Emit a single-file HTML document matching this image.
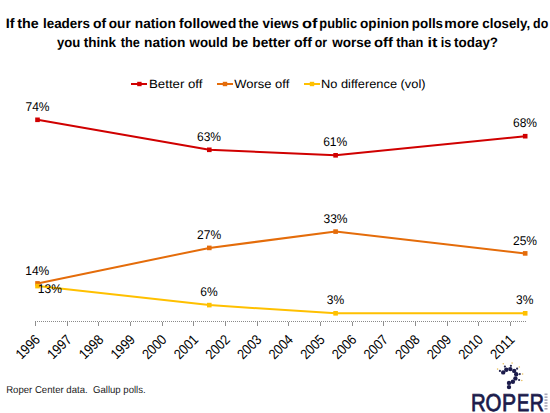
<!DOCTYPE html>
<html><head><meta charset="utf-8">
<style>
html,body{margin:0;padding:0;background:#fff;}
body{width:550px;height:413px;overflow:hidden;position:relative;}
svg{position:absolute;left:0;top:0;}
text{font-family:"Liberation Sans",sans-serif;text-rendering:geometricPrecision;}
</style></head>
<body>
<svg width="550" height="413" viewBox="0 0 550 413">
<g font-weight="bold" font-size="13.7" fill="#000">
<text x="5.86" y="27.6" textLength="8.81" lengthAdjust="spacingAndGlyphs">If</text><text x="17.26" y="27.6" textLength="21.39" lengthAdjust="spacingAndGlyphs">the</text><text x="42.92" y="27.6" textLength="47.16" lengthAdjust="spacingAndGlyphs">leaders</text><text x="93.01" y="27.6" textLength="13.16" lengthAdjust="spacingAndGlyphs">of</text><text x="108.82" y="27.6" textLength="21.87" lengthAdjust="spacingAndGlyphs">our</text><text x="134.81" y="27.6" textLength="41.02" lengthAdjust="spacingAndGlyphs">nation</text><text x="179.09" y="27.6" textLength="57.24" lengthAdjust="spacingAndGlyphs">followed</text><text x="238.57" y="27.6" textLength="20.05" lengthAdjust="spacingAndGlyphs">the</text><text x="262.50" y="27.6" textLength="36.48" lengthAdjust="spacingAndGlyphs">views</text><text x="301.93" y="27.6" textLength="15.44" lengthAdjust="spacingAndGlyphs">of</text><text x="319.37" y="27.6" textLength="37.67" lengthAdjust="spacingAndGlyphs">public</text><text x="360.02" y="27.6" textLength="49.10" lengthAdjust="spacingAndGlyphs">opinion</text><text x="411.83" y="27.6" textLength="31.25" lengthAdjust="spacingAndGlyphs">polls</text><text x="444.38" y="27.6" textLength="34.45" lengthAdjust="spacingAndGlyphs">more</text><text x="482.33" y="27.6" textLength="47.80" lengthAdjust="spacingAndGlyphs">closely,</text><text x="533.10" y="27.6" textLength="15.14" lengthAdjust="spacingAndGlyphs">do</text>
<text x="57.03" y="46.6" textLength="23.23" lengthAdjust="spacingAndGlyphs">you</text><text x="83.66" y="46.6" textLength="32.28" lengthAdjust="spacingAndGlyphs">think</text><text x="120.67" y="46.6" textLength="19.12" lengthAdjust="spacingAndGlyphs">the</text><text x="144.11" y="46.6" textLength="41.23" lengthAdjust="spacingAndGlyphs">nation</text><text x="189.57" y="46.6" textLength="38.31" lengthAdjust="spacingAndGlyphs">would</text><text x="232.11" y="46.6" textLength="16.02" lengthAdjust="spacingAndGlyphs">be</text><text x="252.31" y="46.6" textLength="38.09" lengthAdjust="spacingAndGlyphs">better</text><text x="294.01" y="46.6" textLength="17.96" lengthAdjust="spacingAndGlyphs">off</text><text x="314.87" y="46.6" textLength="12.30" lengthAdjust="spacingAndGlyphs">or</text><text x="332.17" y="46.6" textLength="39.05" lengthAdjust="spacingAndGlyphs">worse</text><text x="374.08" y="46.6" textLength="18.89" lengthAdjust="spacingAndGlyphs">off</text><text x="396.27" y="46.6" textLength="27.01" lengthAdjust="spacingAndGlyphs">than</text><text x="427.44" y="46.6" textLength="9.99" lengthAdjust="spacingAndGlyphs">it</text><text x="440.78" y="46.6" textLength="10.58" lengthAdjust="spacingAndGlyphs">is</text><text x="454.07" y="46.6" textLength="43.98" lengthAdjust="spacingAndGlyphs">today?</text>

</g>
<g font-size="12" fill="#000">
<line x1="131" y1="84" x2="147" y2="84" stroke="#D00000" stroke-width="2"/>
<rect x="137.2" y="81.8" width="4.4" height="4.4" fill="#D00000"/>
<text x="149" y="88.3" textLength="53.5" lengthAdjust="spacingAndGlyphs">Better off</text>
<line x1="217" y1="84" x2="233" y2="84" stroke="#E46C0A" stroke-width="2"/>
<rect x="222.8" y="81.8" width="4.4" height="4.4" fill="#E46C0A"/>
<text x="234.3" y="88.3" textLength="55" lengthAdjust="spacingAndGlyphs">Worse off</text>
<line x1="304" y1="84" x2="320" y2="84" stroke="#FFC000" stroke-width="2"/>
<rect x="309.8" y="81.8" width="4.4" height="4.4" fill="#FFC000"/>
<text x="321" y="88.3" textLength="104.5" lengthAdjust="spacingAndGlyphs">No difference (vol)</text>
</g>
<line x1="35" y1="321.5" x2="527" y2="321.5" stroke="#8A8A8A" stroke-width="1" stroke-dasharray="1,1"/>
<g stroke="#8F8F8F" stroke-width="1"><line x1="35.5" y1="322" x2="35.5" y2="326"/><line x1="67.5" y1="322" x2="67.5" y2="326"/><line x1="98.5" y1="322" x2="98.5" y2="326"/><line x1="130.5" y1="322" x2="130.5" y2="326"/><line x1="162.5" y1="322" x2="162.5" y2="326"/><line x1="193.5" y1="322" x2="193.5" y2="326"/><line x1="225.5" y1="322" x2="225.5" y2="326"/><line x1="257.5" y1="322" x2="257.5" y2="326"/><line x1="288.5" y1="322" x2="288.5" y2="326"/><line x1="320.5" y1="322" x2="320.5" y2="326"/><line x1="352.5" y1="322" x2="352.5" y2="326"/><line x1="383.5" y1="322" x2="383.5" y2="326"/><line x1="415.5" y1="322" x2="415.5" y2="326"/><line x1="447.5" y1="322" x2="447.5" y2="326"/><line x1="478.5" y1="322" x2="478.5" y2="326"/><line x1="510.5" y1="322" x2="510.5" y2="326"/></g>
<polyline points="37.5,119.8 209.3,149.8 335.6,155.3 525.2,136.2" fill="none" stroke="#D00000" stroke-width="2" stroke-linejoin="round"/>
<rect x="35.2" y="117.5" width="4.6" height="4.6" fill="#D00000"/>
<rect x="207.0" y="147.5" width="4.6" height="4.6" fill="#D00000"/>
<rect x="333.3" y="153.0" width="4.6" height="4.6" fill="#D00000"/>
<rect x="522.9" y="133.9" width="4.6" height="4.6" fill="#D00000"/>
<polyline points="37.5,283.4 209.3,247.9 335.6,231.6 525.2,253.4" fill="none" stroke="#E46C0A" stroke-width="2" stroke-linejoin="round"/>
<rect x="35.2" y="281.1" width="4.6" height="4.6" fill="#E46C0A"/>
<rect x="207.0" y="245.6" width="4.6" height="4.6" fill="#E46C0A"/>
<rect x="333.3" y="229.3" width="4.6" height="4.6" fill="#E46C0A"/>
<rect x="522.9" y="251.1" width="4.6" height="4.6" fill="#E46C0A"/>
<polyline points="37.5,286.1 209.3,305.1 335.6,313.3 525.2,313.3" fill="none" stroke="#FFC000" stroke-width="2" stroke-linejoin="round"/>
<rect x="35.2" y="283.8" width="4.6" height="4.6" fill="#FFC000"/>
<rect x="207.0" y="302.8" width="4.6" height="4.6" fill="#FFC000"/>
<rect x="333.3" y="311.0" width="4.6" height="4.6" fill="#FFC000"/>
<rect x="522.9" y="311.0" width="4.6" height="4.6" fill="#FFC000"/>

<g font-size="12.6" fill="#000" text-anchor="middle">
<text x="37.5" y="110.7" textLength="24.08" lengthAdjust="spacingAndGlyphs">74%</text>
<text x="209" y="140.5" textLength="24.08" lengthAdjust="spacingAndGlyphs">63%</text>
<text x="335.2" y="145.9" textLength="24.08" lengthAdjust="spacingAndGlyphs">61%</text>
<text x="525" y="126.9" textLength="24.08" lengthAdjust="spacingAndGlyphs">68%</text>
<text x="37.25" y="274.6" textLength="24.08" lengthAdjust="spacingAndGlyphs">14%</text>
<text x="209.1" y="239.3" textLength="24.08" lengthAdjust="spacingAndGlyphs">27%</text>
<text x="335.5" y="222.7" textLength="24.08" lengthAdjust="spacingAndGlyphs">33%</text>
<text x="525" y="244.6" textLength="24.08" lengthAdjust="spacingAndGlyphs">25%</text>
<text x="49.8" y="292.6" textLength="24.08" lengthAdjust="spacingAndGlyphs">13%</text>
<text x="208.9" y="296.3" textLength="17.39" lengthAdjust="spacingAndGlyphs">6%</text>
<text x="335.5" y="304.2" textLength="17.39" lengthAdjust="spacingAndGlyphs">3%</text>
<text x="524.8" y="304" textLength="17.39" lengthAdjust="spacingAndGlyphs">3%</text>
</g>
<g font-size="14.2" fill="#000" text-anchor="end">
<text transform="translate(41.0,340.5) rotate(-45)" textLength="27.6" lengthAdjust="spacingAndGlyphs">1996</text>
<text transform="translate(72.6,340.5) rotate(-45)" textLength="27.6" lengthAdjust="spacingAndGlyphs">1997</text>
<text transform="translate(104.3,340.5) rotate(-45)" textLength="27.6" lengthAdjust="spacingAndGlyphs">1998</text>
<text transform="translate(135.9,340.5) rotate(-45)" textLength="27.6" lengthAdjust="spacingAndGlyphs">1999</text>
<text transform="translate(167.5,340.5) rotate(-45)" textLength="27.6" lengthAdjust="spacingAndGlyphs">2000</text>
<text transform="translate(199.2,340.5) rotate(-45)" textLength="27.6" lengthAdjust="spacingAndGlyphs">2001</text>
<text transform="translate(230.8,340.5) rotate(-45)" textLength="27.6" lengthAdjust="spacingAndGlyphs">2002</text>
<text transform="translate(262.4,340.5) rotate(-45)" textLength="27.6" lengthAdjust="spacingAndGlyphs">2003</text>
<text transform="translate(294.0,340.5) rotate(-45)" textLength="27.6" lengthAdjust="spacingAndGlyphs">2004</text>
<text transform="translate(325.7,340.5) rotate(-45)" textLength="27.6" lengthAdjust="spacingAndGlyphs">2005</text>
<text transform="translate(357.3,340.5) rotate(-45)" textLength="27.6" lengthAdjust="spacingAndGlyphs">2006</text>
<text transform="translate(388.9,340.5) rotate(-45)" textLength="27.6" lengthAdjust="spacingAndGlyphs">2007</text>
<text transform="translate(420.6,340.5) rotate(-45)" textLength="27.6" lengthAdjust="spacingAndGlyphs">2008</text>
<text transform="translate(452.2,340.5) rotate(-45)" textLength="27.6" lengthAdjust="spacingAndGlyphs">2009</text>
<text transform="translate(483.8,340.5) rotate(-45)" textLength="27.6" lengthAdjust="spacingAndGlyphs">2010</text>
<text transform="translate(515.5,340.5) rotate(-45)" textLength="27.6" lengthAdjust="spacingAndGlyphs">2011</text>
</g>
<text x="6.2" y="393.3" font-size="10" fill="#222" textLength="139.5" lengthAdjust="spacingAndGlyphs">Roper Center data.&#160; Gallup polls.</text>
<g id="logo">
<g font-size="24.4" fill="#1B1B4B" stroke="#1B1B4B" stroke-width="0.8"><text x="471.00" y="410.5" textLength="14.70" lengthAdjust="spacingAndGlyphs">R</text><text x="485.60" y="410.5" textLength="15.90" lengthAdjust="spacingAndGlyphs">O</text><text x="502.10" y="410.5" textLength="14.10" lengthAdjust="spacingAndGlyphs">P</text><text x="516.90" y="410.5" textLength="12.30" lengthAdjust="spacingAndGlyphs">E</text><text x="529.70" y="410.5" textLength="14.20" lengthAdjust="spacingAndGlyphs">R</text></g>
<circle cx="503.2" cy="372.4" r="2.2" fill="#1B1B4B"/><circle cx="506.3" cy="369.7" r="2.2" fill="#1B1B4B"/><circle cx="510.3" cy="369.1" r="2.2" fill="#1B1B4B"/><circle cx="514.2" cy="370.9" r="2.2" fill="#1B1B4B"/><circle cx="516.2" cy="374.3" r="2.2" fill="#1B1B4B"/><circle cx="515.4" cy="378.4" r="2.2" fill="#1B1B4B"/><circle cx="512.9" cy="381.7" r="2.2" fill="#1B1B4B"/><circle cx="509" cy="382.9" r="2.2" fill="#1B1B4B"/><circle cx="509" cy="387.1" r="2.2" fill="#1B1B4B"/><circle cx="499.9" cy="370.9" r="1.1" fill="#2A2A50"/><circle cx="504.9" cy="366.6" r="1.1" fill="#2A2A50"/><circle cx="510.9" cy="365.8" r="1.1" fill="#2A2A50"/><circle cx="517.1" cy="368.7" r="1.1" fill="#2A2A50"/><circle cx="519.8" cy="374.1" r="1.1" fill="#2A2A50"/><circle cx="519.1" cy="380" r="1.1" fill="#2A2A50"/><circle cx="497.6" cy="369.1" r="0.8" fill="#E8C060"/><circle cx="503.3" cy="363.7" r="0.8" fill="#E8C060"/><circle cx="512.1" cy="363.1" r="0.8" fill="#E8C060"/><circle cx="519.3" cy="367" r="0.8" fill="#E8C060"/><circle cx="522.6" cy="374" r="0.8" fill="#E8C060"/><circle cx="521.8" cy="380.5" r="0.8" fill="#E8C060"/><g fill="#A8A8B8"><rect x="544.5" y="393.5" width="3" height="1.6"/><rect x="544.5" y="396.4" width="3" height="1.6"/><rect x="544.5" y="399.3" width="3" height="1.6"/><rect x="544.5" y="402.2" width="3" height="1.6"/><rect x="544.5" y="405.1" width="3" height="1.6"/><rect x="544.5" y="408.0" width="3" height="1.6"/></g>
</g>
</svg>
</body></html>
